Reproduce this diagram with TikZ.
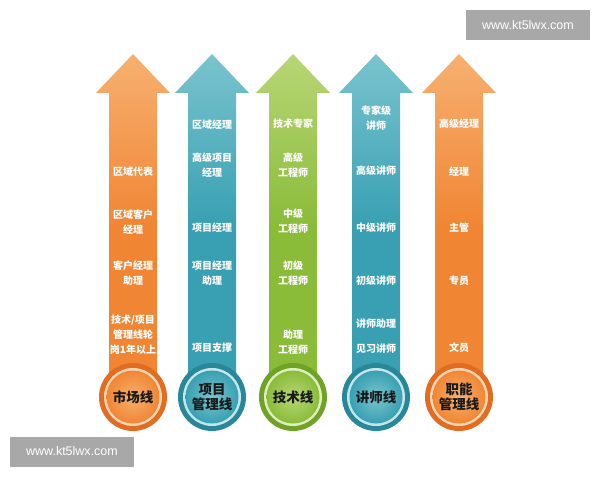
\documentclass[tikz,border=0pt]{standalone}
\usepackage{fontspec}
\setmainfont{Noto Sans CJK SC}
\newfontfamily\webfont{Liberation Sans}

\definecolor{orgL}{RGB}{247,176,112}
\definecolor{orgM}{RGB}{240,134,52}
\definecolor{orgD}{RGB}{226,108,34}
\definecolor{orgP}{RGB}{250,214,180}
\definecolor{tealL}{RGB}{122,196,206}
\definecolor{tealM}{RGB}{56,160,178}
\definecolor{tealD}{RGB}{40,136,154}
\definecolor{tealP}{RGB}{196,230,234}
\definecolor{grnL}{RGB}{184,214,118}
\definecolor{grnM}{RGB}{138,188,58}
\definecolor{grnD}{RGB}{112,162,40}
\definecolor{grnP}{RGB}{222,238,190}
\definecolor{markgray}{RGB}{168,168,168}

\tikzset{
	lvl/.style={text=white, font=\bfseries\fontsize{10}{15}\selectfont, align=center, inner sep=0pt},
	track/.style={text=black!90, font=\bfseries\fontsize{13.5}{14.5}\selectfont, align=center, inner sep=0pt},
	webmark/.style={fill=markgray, text=white, font=\webfont\fontsize{12.5}{14}\selectfont,
		minimum width=124pt, minimum height=30pt, inner sep=0pt}
}

\begin{document}
\begin{tikzpicture}[x=1pt,y=1pt]
	\useasboundingbox (0,0) rectangle (600,480);
	\fill[white] (0,0) rectangle (600,480);

	\foreach \c/\cl/\cm/\cd/\cp in {133/orgL/orgM/orgD/orgP, 212/tealL/tealM/tealD/tealP,
		293/grnL/grnM/grnD/grnP, 376/tealL/tealM/tealD/tealP, 459/orgL/orgM/orgD/orgP}
	{
		\shade[top color=\cl, bottom color=\cm, middle color=\cm]
			({\c-24},83) -- ({\c-24},387) -- ({\c-37},387) -- (\c,426)
			-- ({\c+37},387) -- ({\c+24},387) -- ({\c+24},83) -- cycle;
		\fill[\cd] (\c,83) circle (34);
		\fill[\cp] (\c,83) circle (29);
		\shade[inner color=\cl, outer color=\cm] (\c,83) circle (26.5);
	}

	% market
	\node[lvl] (m1) at (133,308) {区域代表};
	\node[lvl] (m2) at (133,258) {区域客户\\经理};
	\node[lvl] (m3) at (133,207) {客户经理\\助理};
	\node[lvl] (m4) at (133,145) {技术/项目\\管理线轮\\岗1年以上};
	\node[track] (mk) at (133,83) {市场线};

	% project
	\node[lvl] (p1) at (212,355) {区域经理};
	\node[lvl] (p2) at (212,315) {高级项目\\经理};
	\node[lvl] (p3) at (212,252) {项目经理};
	\node[lvl] (p4) at (212,207) {项目经理\\助理};
	\node[lvl] (p5) at (212,132) {项目支撑};
	\node[track] (pj) at (212,83) {项目\\管理线};

	% tech
	\node[lvl] (t1) at (293,356) {技术专家};
	\node[lvl] (t2) at (293,315) {高级\\工程师};
	\node[lvl] (t3) at (293,259) {中级\\工程师};
	\node[lvl] (t4) at (293,207) {初级\\工程师};
	\node[lvl] (t5) at (293,138) {助理\\工程师};
	\node[track] (tc) at (293,83) {技术线};

	% lecturer
	\node[lvl] (l1) at (376,362) {专家级\\讲师};
	\node[lvl] (l2) at (376,309) {高级讲师};
	\node[lvl] (l3) at (376,252) {中级讲师};
	\node[lvl] (l4) at (376,199) {初级讲师};
	\node[lvl] (l5) at (376,156) {讲师助理};
	\node[lvl] (l6) at (376,131) {见习讲师};
	\node[track] (lc) at (376,83) {讲师线};

	% function
	\node[lvl] (f1) at (459,356) {高级经理};
	\node[lvl] (f2) at (459,308) {经理};
	\node[lvl] (f3) at (459,252) {主管};
	\node[lvl] (f4) at (459,199) {专员};
	\node[lvl] (f5) at (459,132) {文员};
	\node[track] (fn) at (459,83) {职能\\管理线};

	\node[webmark] (wm1) at (528,455) {www.kt5lwx.com};
	\node[webmark] (wm2) at (72,28.5) {www.kt5lwx.com};
\end{tikzpicture}
\end{document}
